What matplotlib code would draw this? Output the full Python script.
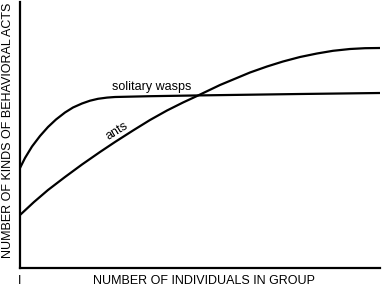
import matplotlib
matplotlib.use("Agg")
import matplotlib.pyplot as plt

# group size (arbitrary units along x) and number of kinds of acts (arbitrary units)
group_size = [0, 5, 12, 20, 28, 36, 45, 53, 62, 70, 78, 87, 95, 130, 180, 230, 280, 360]
wasps = [100, 110, 121.5, 132, 141, 148.5, 155.5, 160.5, 164.5, 167.3, 169.2, 170.4, 171, 171.8, 172.6, 173.3, 174, 175]

group_size_ants = [0, 14, 28, 45, 62, 80, 95, 113, 130, 147, 163, 177, 200, 230, 247, 263, 280, 297, 313, 330, 345, 360]
ants = [53, 66, 78, 91, 103.5, 116, 126, 137.5, 148, 157.5, 165.5, 172, 183, 195.5, 201.5, 206.5, 211, 214.5, 217.2, 219, 219.8, 220]

x_label = "NUMBER OF INDIVIDUALS IN GROUP"
y_label = "NUMBER OF KINDS OF BEHAVIORAL ACTS"
x_tick = "I"

plt.rcParams['font.family'] = ['Liberation Sans Narrow', 'Liberation Sans', 'DejaVu Sans']

fig = plt.figure(figsize=(3.83, 2.87), dpi=100)
ax = fig.add_axes([20/383, 1-268/287, 360/383, 266/287])
ax.plot(group_size, wasps, color='black', lw=1.6, solid_capstyle='butt')
ax.plot(group_size_ants, ants, color='black', lw=1.6, solid_capstyle='butt')
ax.set_xlim(0, 360)
ax.set_ylim(0, 266)
for s in ['top', 'right']:
    ax.spines[s].set_visible(False)
for s in ['left', 'bottom']:
    ax.spines[s].set_linewidth(1.6)
ax.set_xticks([])
ax.set_yticks([])

fig.text(20/383, 1-281/287, x_tick, ha='center', va='center', fontsize=9)
fig.text(204/383, 1-281/287, x_label, ha='center', va='center', fontsize=9)
fig.text(8/383, 1-130/287, y_label, ha='center', va='center', rotation=90, fontsize=9)

ax.text(132, 181, "solitary wasps", ha='center', va='center', fontsize=9)
ax.text(97, 137, "ants", ha='center', va='center', fontsize=9, rotation=32)

fig.savefig("out.png", dpi=100)
